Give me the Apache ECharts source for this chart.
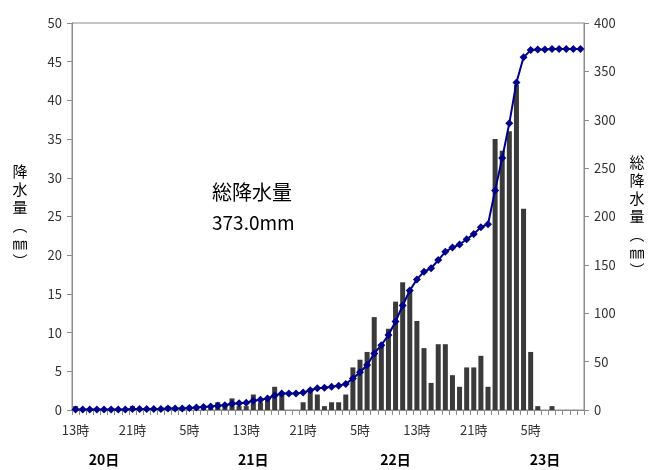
<!DOCTYPE html>
<html>
<head>
<meta charset="utf-8">
<script src="https://cdn.jsdelivr.net/npm/echarts@6/dist/echarts.min.js"></script>
<style>
html,body{margin:0;padding:0;background:#fff;}
#chart{width:654px;height:470px;}
</style>
</head>
<body>
<div id="chart"></div>
<script>
// Hourly categories: 20日13時 ... 23日12時
const hours = [
  '13時','14時','15時','16時','17時','18時','19時','20時','21時','22時','23時','24時',
  '1時','2時','3時','4時','5時','6時','7時','8時','9時','10時','11時','12時','13時','14時','15時','16時','17時','18時','19時','20時','21時','22時','23時','24時',
  '1時','2時','3時','4時','5時','6時','7時','8時','9時','10時','11時','12時','13時','14時','15時','16時','17時','18時','19時','20時','21時','22時','23時','24時',
  '1時','2時','3時','4時','5時','6時','7時','8時','9時','10時','11時','12時'
];
const dayNames = ['20日','21日','22日','23日'];
const dayLabelIdx = [4, 25, 45, 66];

// Hourly precipitation (mm)
const hourly = [
  0.5,0,0,0,0,0,0,0,0.5,0,0,0,0,0.5,0,0,0.5,0.5,0.5,0.5,
  1.0,0.5,1.5,0.5,0.5,2.0,1.0,1.5,3.0,2.0,0,0,1.0,2.5,2.0,0.5,1.0,1.0,2.0,
  5.5,6.5,7.5,12.0,8.5,10.5,14.0,16.5,15.5,11.5,8.0,3.5,8.5,8.5,4.5,3.0,5.5,5.5,7.0,3.0,
  35.0,33.5,36.0,42.0,26.0,7.5,0.5,0,0.5,0,0,0,0
];
// Cumulative precipitation (mm)
const total = [
  0.5,0.5,0.5,0.5,0.5,0.5,0.5,0.5,1.0,1.0,1.0,1.0,1.0,1.5,1.5,1.5,2.0,2.5,3.0,3.5,
  4.5,5.0,6.5,7.0,7.5,9.5,10.5,12.0,15.0,17.0,17.0,17.0,18.0,20.5,22.5,23.0,24.0,25.0,27.0,
  32.5,39.0,46.5,58.5,67.0,77.5,91.5,108.0,123.5,135.0,143.0,146.5,155.0,163.5,168.0,171.0,176.5,182.0,189.0,192.0,
  227.0,260.5,296.5,338.5,364.5,372.0,372.5,372.5,373.0,373.0,373.0,373.0,373.0
];
const leftTicks = {min: 0, max: 50, interval: 5};
const rightTicks = {min: 0, max: 400, interval: 50};
const noteTitle = '総降水量';
const noteValue = '373.0mm';

const FONT = '"Noto Sans CJK JP", "Noto Sans", sans-serif';
const AXIS_COLOR = '#8c8c8c';
const TEXT_COLOR = '#333';

const chart = echarts.init(document.getElementById('chart'), null, {renderer: 'canvas'});
chart.setOption({
  animation: false,
  textStyle: {fontFamily: FONT},
  grid: {left: 72, right: 70, top: 23, bottom: 60, show: true, borderColor: AXIS_COLOR, borderWidth: 1},
  xAxis: [
    {
      type: 'category', data: hours, boundaryGap: true,
      axisLine: {lineStyle: {color: AXIS_COLOR}},
      axisTick: {show: true, interval: 0, length: 5, lineStyle: {color: AXIS_COLOR}},
      axisLabel: {interval: 7, color: TEXT_COLOR, fontSize: 13, fontFamily: FONT, margin: 14}
    },
    {
      type: 'category', data: hours, boundaryGap: true, position: 'bottom',
      axisLine: {show: false}, axisTick: {show: false},
      axisLabel: {
        interval: (i) => dayLabelIdx.indexOf(i) >= 0,
        formatter: (v, i) => { const k = dayLabelIdx.indexOf(i); return k >= 0 ? dayNames[k] : ''; },
        color: '#000', fontSize: 14, fontWeight: 'bold', fontFamily: FONT, margin: 43
      }
    }
  ],
  yAxis: [
    {
      type: 'value', min: leftTicks.min, max: leftTicks.max, interval: leftTicks.interval,
      name: '降\n水\n量\n︵\n㎜\n︶', nameLocation: 'middle', nameRotate: 0, nameGap: 52,
      nameTextStyle: {color: '#000', fontSize: 15, lineHeight: 18, align: 'center', verticalAlign: 'middle', fontFamily: FONT, padding: [12, 0, 0, 0]},
      axisLine: {show: true, lineStyle: {color: AXIS_COLOR}},
      axisTick: {show: true, length: 5, lineStyle: {color: AXIS_COLOR}},
      axisLabel: {color: TEXT_COLOR, fontSize: 13, fontFamily: FONT, margin: 10},
      splitLine: {show: false}
    },
    {
      type: 'value', min: rightTicks.min, max: rightTicks.max, interval: rightTicks.interval,
      name: '総\n降\n水\n量\n︵\n㎜\n︶', nameLocation: 'middle', nameRotate: 0, nameGap: 53,
      nameTextStyle: {color: '#000', fontSize: 15, lineHeight: 18, align: 'center', verticalAlign: 'middle', fontFamily: FONT},
      axisLine: {show: true, lineStyle: {color: AXIS_COLOR}},
      axisTick: {show: true, length: 5, lineStyle: {color: AXIS_COLOR}},
      axisLabel: {color: TEXT_COLOR, fontSize: 13, fontFamily: FONT, margin: 10},
      splitLine: {show: false}
    }
  ],
  series: [
    {
      type: 'bar', data: hourly, xAxisIndex: 0, yAxisIndex: 0,
      barWidth: 5, itemStyle: {color: '#3a3a3a'}
    },
    {
      type: 'line', data: total, xAxisIndex: 0, yAxisIndex: 1,
      symbol: 'diamond', symbolSize: 8, showSymbol: true, showAllSymbol: true,
      lineStyle: {color: '#00008b', width: 2},
      itemStyle: {color: '#00008b'}
    }
  ],
  graphic: [
    {type: 'text', left: 212, top: 182, style: {text: noteTitle, font: '20px "Noto Sans CJK JP"', fill: '#000'}},
    {type: 'text', left: 212, top: 213, style: {text: noteValue, font: '19px "Noto Sans CJK JP"', fill: '#000'}}
  ]
});
</script>
</body>
</html>
